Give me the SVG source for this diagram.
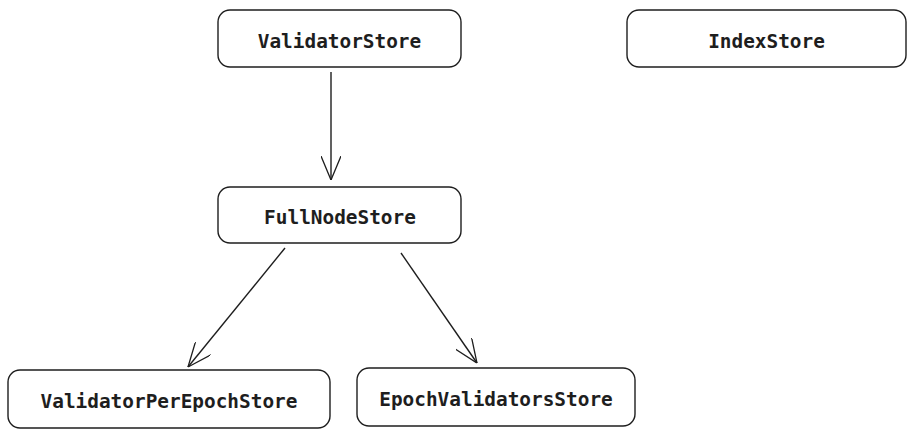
<svg xmlns="http://www.w3.org/2000/svg" width="915" height="438" viewBox="0 0 915 438">
<defs>
<marker id="ah" viewBox="0 0 24 20" refX="24" refY="10" markerWidth="24" markerHeight="20" markerUnits="userSpaceOnUse" orient="auto">
<path d="M0,0 L24,10 L0,20" fill="none" stroke="#1e1e1e" stroke-width="1.3"/>
</marker>
</defs>
<style>
.box{fill:#fff;stroke:#1e1e1e;stroke-width:1.4}
.lbl{font-family:"DejaVu Sans Mono","Liberation Mono",monospace;font-size:19.4px;font-weight:bold;fill:#1e1e1e;text-anchor:middle;dominant-baseline:central}
.edge{fill:none;stroke:#1e1e1e;stroke-width:1.4}
</style>
<rect width="915" height="438" fill="#fff"/>
<g id="connectors">
<path class="edge" d="M331,72 L331,180" marker-end="url(#ah)"/>
<path class="edge" d="M285,248 L188,367" marker-end="url(#ah)"/>
<path class="edge" d="M401,253 L477,363" marker-end="url(#ah)"/>
</g>
<g id="ValidatorStore">
<rect class="box" x="218" y="10" width="243" height="57" rx="12"/>
<text class="lbl" x="339.5" y="41">ValidatorStore</text>
</g>
<g id="IndexStore">
<rect class="box" x="627" y="10" width="279" height="57" rx="12"/>
<text class="lbl" x="766.5" y="41">IndexStore</text>
</g>
<g id="FullNodeStore">
<rect class="box" x="218" y="187" width="243" height="56" rx="12"/>
<text class="lbl" x="340" y="217">FullNodeStore</text>
</g>
<g id="ValidatorPerEpochStore">
<rect class="box" x="8" y="370" width="322" height="58" rx="12"/>
<text class="lbl" x="169" y="401">ValidatorPerEpochStore</text>
</g>
<g id="EpochValidatorsStore">
<rect class="box" x="357" y="368" width="278" height="58" rx="12"/>
<text class="lbl" x="496" y="399">EpochValidatorsStore</text>
</g>
</svg>
